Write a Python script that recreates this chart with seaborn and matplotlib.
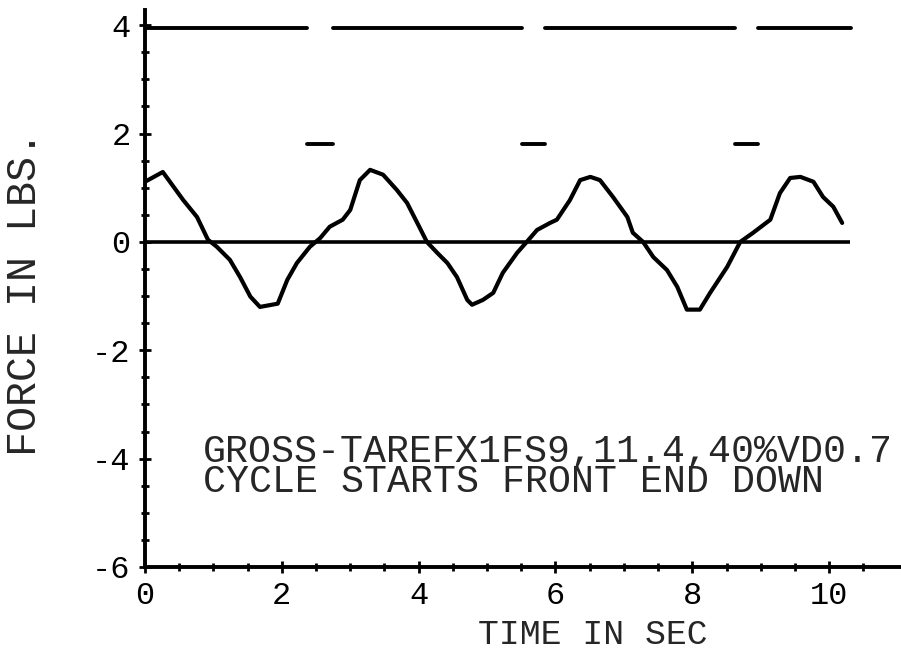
import numpy as np
import pandas as pd
import matplotlib
matplotlib.use("Agg")
import matplotlib.pyplot as plt
import seaborn as sns

# Measured force trace (time in seconds, force in pounds)
time_s = [0.00, 0.26, 0.56, 0.76, 0.92, 1.05, 1.24, 1.39, 1.54, 1.68, 1.94,
          2.08, 2.22, 2.41, 2.56, 2.70, 2.89, 3.00, 3.14, 3.29, 3.48, 3.68,
          3.83, 3.98, 4.12, 4.27, 4.42, 4.56, 4.71, 4.78, 4.94, 5.09, 5.23,
          5.44, 5.58, 5.73, 5.92, 6.02, 6.21, 6.36, 6.51, 6.65, 6.84, 7.05,
          7.13, 7.28, 7.43, 7.63, 7.78, 7.92, 8.11, 8.26, 8.51, 8.70, 8.89,
          9.14, 9.28, 9.43, 9.58, 9.77, 9.91, 10.06, 10.19]
force_lbs = [1.11, 1.29, 0.77, 0.46, 0.04, -0.09, -0.33, -0.65, -1.01, -1.20, -1.14,
             -0.70, -0.39, -0.09, 0.07, 0.28, 0.41, 0.59, 1.14, 1.33, 1.24, 0.96,
             0.72, 0.35, 0.00, -0.20, -0.39, -0.65, -1.07, -1.16, -1.07, -0.94, -0.57,
             -0.20, 0.00, 0.22, 0.35, 0.41, 0.77, 1.14, 1.20, 1.14, 0.83, 0.46,
             0.17, 0.00, -0.28, -0.52, -0.83, -1.25, -1.25, -0.94, -0.46, 0.00, 0.17,
             0.41, 0.90, 1.18, 1.20, 1.11, 0.83, 0.65, 0.35]

# Cycle marker: level held between successive edge times
pulse_edges = [0.0, 2.37, 2.75, 5.51, 5.85, 8.63, 8.96, 10.32]
pulse_levels = [3.94, 1.80, 3.94, 1.80, 3.94, 1.80, 3.94]

zero_line_end = 10.30

x_major = [0, 2, 4, 6, 8, 10]
y_major = [-6, -4, -2, 0, 2, 4]

note_lines = ["GROSS-TAREFX1FS9,11.4,40%VD0.7",
              "CYCLE STARTS FRONT END DOWN"]

sns.set_style("ticks")
plt.rcParams["font.family"] = ["Liberation Mono", "DejaVu Sans Mono"]
plt.rcParams["axes.unicode_minus"] = False

W, H = 901, 651
fig = plt.figure(figsize=(W / 100, H / 100), dpi=100)
ax = fig.add_axes([145 / W, 84 / H, (W - 145) / W, (567 - 10) / H])

wave = pd.DataFrame({"t": time_s, "f": force_lbs})
sns.lineplot(data=wave, x="t", y="f", color="black", lw=3.0,
             estimator=None, sort=False, ax=ax)

rows = []
for i, lvl in enumerate(pulse_levels):
    rows.append({"t": pulse_edges[i], "f": lvl, "seg": i})
    rows.append({"t": pulse_edges[i + 1], "f": lvl, "seg": i})
pulse = pd.DataFrame(rows)
sns.lineplot(data=pulse, x="t", y="f", units="seg", estimator=None,
             color="black", lw=2.8, ax=ax)

ax.hlines(0, 0, zero_line_end, color="black", lw=2.6)

ax.set_xlim(0, 11.05)
ax.set_ylim(-6, 4.28)

ax.set_xticks(x_major)
ax.set_xticklabels([str(v) for v in x_major])
ax.set_yticks(y_major)
ax.set_yticklabels([str(v) for v in y_major])
ax.set_xticks([v for v in np.arange(0, 10.51, 0.5) if v not in x_major], minor=True)
ax.set_yticks([v for v in np.arange(-6, 4.01, 0.5) if v not in y_major], minor=True)

ax.tick_params(which="major", direction="inout", length=8.6, width=2.0,
               labelsize=23, color="black", labelcolor="black")
ax.tick_params(axis="x", which="major", pad=6)
ax.tick_params(axis="y", which="major", pad=6)
ax.tick_params(which="minor", direction="inout", length=5.5, width=2.0, color="black")

for side in ("top", "right"):
    ax.spines[side].set_visible(False)
for side in ("left", "bottom"):
    ax.spines[side].set_linewidth(2.8)
    ax.spines[side].set_color("black")

ax.set_xlabel("TIME IN SEC", fontsize=25, va="center", ha="center")
ax.xaxis.set_label_coords((593 - 145) / (W - 145), -(634 - 567) / (567 - 10))
ax.set_ylabel("FORCE IN LBS.", fontsize=30, va="center", ha="center")
ax.yaxis.set_label_coords(-(145 - 25) / (W - 145), (567 - 294) / (567 - 10))

ax.text(0.85, -4.16, "\n".join(note_lines), fontsize=27.5, va="center",
        ha="left", linespacing=0.78)

fig.patch.set_facecolor("white")
ax.set_facecolor("white")
fig.savefig("out.png", dpi=100, facecolor="white")
